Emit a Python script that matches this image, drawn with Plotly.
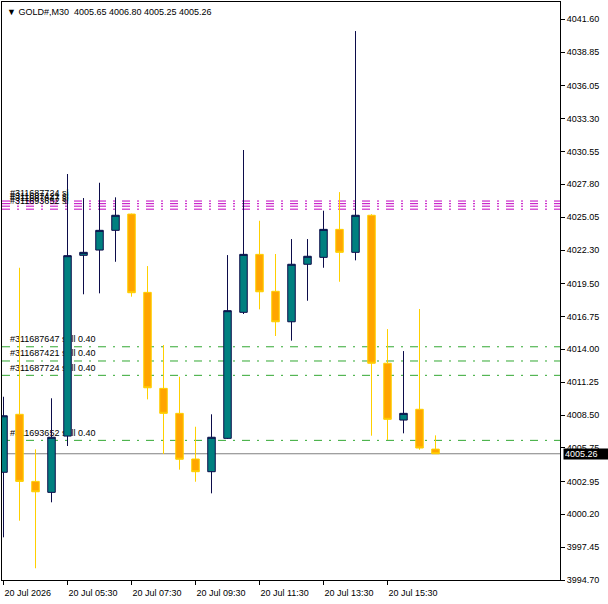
import plotly.graph_objects as go
import pandas as pd

# ---------------- data ----------------
symbol = "GOLD#,M30"
times = pd.date_range("2026-07-20 03:30", periods=28, freq="30min")
opens = [4003.71, 4008.56, 4002.95, 4002.03, 4006.74, 4021.86, 4022.30, 4023.95,
         4025.31, 4018.76, 4010.73, 4008.64, 4004.82, 4003.76, 4006.55, 4017.09,
         4021.94, 4018.85, 4016.30, 4021.11, 4021.69, 4024.03, 4022.11, 4025.21,
         4012.83, 4008.08, 4008.98, 4005.65]
highs = [4010.03, 4020.82, 4005.63, 4009.90, 4028.66, 4026.65, 4027.93, 4026.71,
         4025.35, 4020.96, 4014.36, 4011.70, 4007.52, 4008.56, 4021.88, 4030.67,
         4024.75, 4021.97, 4023.22, 4023.22, 4025.59, 4027.15, 4040.62, 4025.30,
         4015.69, 4013.85, 4017.37, 4006.80]
lows = [3998.27, 3999.66, 3995.68, 4001.20, 4005.91, 4018.60, 4018.68, 4021.32,
        4018.40, 4009.81, 4005.24, 4003.93, 4002.92, 4001.95, 4006.50, 4016.95,
        4017.34, 4015.11, 4014.72, 4018.06, 4020.82, 4019.65, 4021.44, 4006.77,
        4006.41, 4006.97, 4005.60, 4005.25]
closes = [4008.44, 4002.95, 4002.08, 4006.64, 4021.83, 4022.11, 4023.95, 4025.21,
          4018.73, 4010.78, 4008.64, 4004.80, 4003.76, 4006.64, 4017.23, 4021.94,
          4018.81, 4016.30, 4021.11, 4021.78, 4024.03, 4022.11, 4025.21, 4012.83,
          4008.14, 4008.64, 4005.74, 4005.26]
bid = 4005.26

sl_labels = ["#311687724 sl", "#311687421 sl", "#311687647 sl", "#311693652 sl"]
sl_prices = [4026.40, 4026.18, 4025.97, 4025.72]
entry_labels = ["#311687647 sell 0.40", "#311687421 sell 0.40",
                "#311687724 sell 0.40", "#311693652 sell 0.40"]
entry_prices = [4014.21, 4013.02, 4011.82, 4006.38]

ytick_vals = [4041.60, 4038.85, 4036.05, 4033.30, 4030.55, 4027.80, 4025.05,
              4022.30, 4019.50, 4016.75, 4014.00, 4011.25, 4008.50, 4005.75,
              4002.95, 4000.20, 3997.45, 3994.70]
xtick_times = ["2026-07-20 03:30", "2026-07-20 05:30", "2026-07-20 07:30",
               "2026-07-20 09:30", "2026-07-20 11:30", "2026-07-20 13:30",
               "2026-07-20 15:30"]
xtick_text = ["20 Jul 2026", "20 Jul 05:30", "20 Jul 07:30", "20 Jul 09:30",
              "20 Jul 11:30", "20 Jul 13:30", "20 Jul 15:30"]

# ---------------- layout constants ----------------
W, H = 608, 604
ML, MR, MT, MB = 2, 48, 2, 24
plot_w = W - ML - MR
plot_h = H - MT - MB
y_lo, y_hi = 3994.70, 4043.05
px_per_unit = plot_h / (y_hi - y_lo)
bar_px = 16.0
bar = pd.Timedelta(minutes=30)
x_left = times[0] - bar * (1.5 / bar_px)
x_right = x_left + bar * (plot_w / bar_px)

FONT = "Liberation Sans, Arial, sans-serif"
TEAL = "#008080"
NAVY = "#0c0c4a"
ORANGE = "#FFA500"
GOLD = "#FFD000"
MAGENTA = "#C000C0"
GREEN = "#32A832"

fig = go.Figure()

# order label texts on the base subplot (candles are drawn over them)
lab_x = times[0] + bar * (6.5 / bar_px)
lab_off = 7.0 / px_per_unit
fig.add_trace(go.Scatter(
    x=[lab_x] * (len(sl_labels) + len(entry_labels)),
    y=[p + lab_off for p in sl_prices] + [p + lab_off for p in entry_prices],
    text=sl_labels + entry_labels,
    mode="text", textposition="middle right",
    textfont=dict(family=FONT, size=9, color="#000000"),
    hoverinfo="skip", showlegend=False, xaxis="x", yaxis="y"))

fig.add_trace(go.Candlestick(
    x=times, open=opens, high=highs, low=lows, close=closes,
    increasing=dict(line=dict(color=NAVY, width=1), fillcolor=TEAL),
    decreasing=dict(line=dict(color=GOLD, width=1), fillcolor=ORANGE),
    whiskerwidth=0, showlegend=False, hoverinfo="skip",
    xaxis="x2", yaxis="y2"))

shapes = []
for p in sl_prices:
    shapes.append(dict(type="line", xref="paper", x0=0, x1=1, yref="y", y0=p, y1=p,
                       line=dict(color=MAGENTA, width=1, dash="8px,7px,2px,7px"),
                       layer="below"))
for p in entry_prices:
    shapes.append(dict(type="line", xref="paper", x0=0, x1=1, yref="y", y0=p, y1=p,
                       line=dict(color=GREEN, width=1, dash="8px,7px,2px,7px"),
                       layer="below"))
shapes.append(dict(type="line", xref="paper", x0=0, x1=1, yref="y", y0=bid, y1=bid,
                   line=dict(color="#808080", width=1), layer="below"))

annotations = [
    dict(xref="paper", yref="paper", x=0, y=1, xanchor="left", yanchor="top",
         xshift=3, yshift=-3, showarrow=False,
         text="\u25BC " + symbol + "\u00A0\u00A0" + " ".join(
             f"{v:.2f}" for v in (opens[-1], highs[-1], lows[-1], closes[-1])),
         font=dict(family=FONT, size=9, color="#000000")),
    dict(xref="paper", yref="y", x=1, y=bid, xanchor="left", yanchor="middle",
         xshift=3, showarrow=False, text=f"{bid:.2f}", bgcolor="#000000",
         font=dict(family=FONT, size=9, color="#FFFFFF"), borderpad=1,
         width=42, height=8, align="left"),
]

axis_common = dict(showgrid=False, zeroline=False, showline=True, linecolor="#000000",
                   linewidth=1, mirror=True, ticks="outside", ticklen=4,
                   tickcolor="#000000",
                   tickfont=dict(family=FONT, size=9, color="#000000"))

fig.update_layout(
    width=W, height=H,
    margin=dict(l=ML, r=MR, t=MT, b=MB, pad=0),
    paper_bgcolor="#FFFFFF", plot_bgcolor="#FFFFFF",
    font=dict(family=FONT, size=9, color="#000000"),
    shapes=shapes, annotations=annotations,
    boxgap=0.33,
    xaxis=dict(type="date", range=[x_left, x_right], rangeslider=dict(visible=False),
               tickvals=xtick_times, ticktext=xtick_text,
               ticklabelposition="outside right", ticklabelstandoff=4,
               **axis_common),
    yaxis=dict(range=[y_lo, y_hi], side="right",
               tickvals=ytick_vals, ticktext=[f"{v:.2f}" for v in ytick_vals],
               **axis_common),
    xaxis2=dict(type="date", range=[x_left, x_right], overlaying="x", visible=False,
                rangeslider=dict(visible=False)),
    yaxis2=dict(range=[y_lo, y_hi], overlaying="y", visible=False),
)

fig.write_html("out.html")
